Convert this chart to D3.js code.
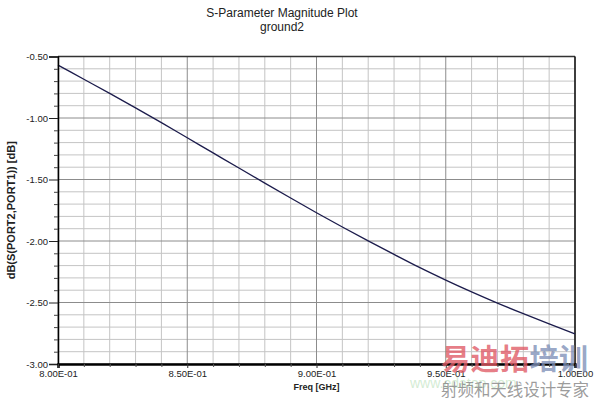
<!DOCTYPE html>
<html><head><meta charset="utf-8">
<script src="https://cdn.jsdelivr.net/npm/d3@7/dist/d3.min.js"></script>
<style>
html,body{margin:0;padding:0;background:#fff;}
svg{display:block;font-family:"Liberation Sans",Arial,sans-serif;}
</style></head><body>
<svg id="c" width="594" height="400"></svg>
<script>
// ---- data ----
const freqGHz = [0.80,0.81,0.82,0.83,0.84,0.85,0.86,0.87,0.88,0.89,0.90,0.91,0.92,0.93,0.94,0.95,0.96,0.97,0.98,0.99,1.00];
const s21dB   = [-0.57,-0.685,-0.80,-0.918,-1.038,-1.161,-1.284,-1.407,-1.529,-1.650,-1.770,-1.886,-1.999,-2.109,-2.217,-2.318,-2.414,-2.505,-2.591,-2.674,-2.755];
const xMajorTicks = [0.80,0.85,0.90,0.95,1.00];
const xTickLabels = ["8.00E-01","8.50E-01","9.00E-01","9.50E-01","1.00E00"];
const xMinorTicks = [0.81,0.82,0.83,0.84,0.86,0.87,0.88,0.89,0.91,0.92,0.93,0.94,0.96,0.97,0.98,0.99];
const yMajorTicks = [-3.0,-2.5,-2.0,-1.5,-1.0,-0.5];
const yTickLabels = ["-3.00","-2.50","-2.00","-1.50","-1.00","-0.50"];
const yMinorTicks = [-2.9,-2.8,-2.7,-2.6,-2.4,-2.3,-2.2,-2.1,-1.9,-1.8,-1.7,-1.6,-1.4,-1.3,-1.2,-1.1,-0.9,-0.8,-0.7,-0.6];
const titleLines = ["S-Parameter Magnitude Plot","ground2"];
const xTitle = "Freq [GHz]";
const yTitle = "dB(S(PORT2,PORT1)) [dB]";

// ---- layout ----
const L=58, R=575, T=56.5, B=364;
const svg=d3.select("#c");
const x=d3.scaleLinear().domain([0.8,1.0]).range([L,R]);
const y=d3.scaleLinear().domain([-3,-0.5]).range([B,T]);

// grid
const g=svg.append("g");
g.selectAll(".vmin").data(xMinorTicks).join("line")
 .attr("x1",d=>x(d)).attr("x2",d=>x(d)).attr("y1",T).attr("y2",B)
 .attr("stroke","#c4c4c4").attr("stroke-width",1);
g.selectAll(".hmin").data(yMinorTicks).join("line")
 .attr("y1",d=>y(d)).attr("y2",d=>y(d)).attr("x1",L).attr("x2",R)
 .attr("stroke","#c4c4c4").attr("stroke-width",1);
g.selectAll(".vmaj").data(xMajorTicks).join("line")
 .attr("x1",d=>x(d)).attr("x2",d=>x(d)).attr("y1",T).attr("y2",B)
 .attr("stroke","#8c8c8c").attr("stroke-width",1);
g.selectAll(".hmaj").data(yMajorTicks).join("line")
 .attr("y1",d=>y(d)).attr("y2",d=>y(d)).attr("x1",L).attr("x2",R)
 .attr("stroke","#8c8c8c").attr("stroke-width",1);

// frame
svg.append("line").attr("x1",L).attr("x2",R).attr("y1",T).attr("y2",T).attr("stroke","#333").attr("stroke-width",1.5);
svg.append("line").attr("x1",R).attr("x2",R).attr("y1",T).attr("y2",B).attr("stroke","#111").attr("stroke-width",1.5);

// curve
svg.append("path").datum(freqGHz.map((f,i)=>[f,s21dB[i]]))
 .attr("fill","none").attr("stroke","#1c1c4c").attr("stroke-width",1.3)
 .attr("d",d3.line().x(d=>x(d[0])).y(d=>y(d[1])).curve(d3.curveMonotoneX));

// y axis
const yAxisMajor=d3.axisLeft(y).tickValues(yMajorTicks).tickSize(9).tickPadding(1)
 .tickFormat((d,i)=>yTickLabels[i]);
const ya=svg.append("g").attr("transform",`translate(${L},0)`).call(yAxisMajor);
ya.select(".domain").attr("stroke","#000").attr("stroke-width",1.5);
ya.selectAll("text").attr("font-size","9.5px").attr("fill","#222").attr("font-family","Liberation Sans, Arial, sans-serif");
ya.selectAll(".tick line").attr("stroke","#222");
const ym=svg.append("g").attr("transform",`translate(${L},0)`).call(d3.axisLeft(y).tickValues(yMinorTicks).tickSize(4).tickFormat(""));
ym.select(".domain").remove();
ym.selectAll(".tick line").attr("stroke","#444");

// x axis
const xAxisMajor=d3.axisBottom(x).tickValues(xMajorTicks).tickSize(4).tickPadding(2)
 .tickFormat((d,i)=>xTickLabels[i]);
const xa=svg.append("g").attr("transform",`translate(0,${B})`).call(xAxisMajor);
xa.select(".domain").attr("stroke","#000").attr("stroke-width",2.5);
xa.selectAll("text").attr("font-size","9.5px").attr("fill","#222").attr("font-family","Liberation Sans, Arial, sans-serif");
xa.selectAll(".tick line").attr("stroke","#333");
const xm=svg.append("g").attr("transform",`translate(0,${B})`).call(d3.axisBottom(x).tickValues(xMinorTicks).tickSize(3).tickFormat(""));
xm.select(".domain").remove();
xm.selectAll(".tick line").attr("stroke","#555");

// titles
svg.append("text").attr("x",282).attr("y",17).attr("text-anchor","middle")
 .attr("font-size","12px").attr("fill","#222").text(titleLines[0]);
svg.append("text").attr("x",282).attr("y",30.5).attr("text-anchor","middle")
 .attr("font-size","12px").attr("fill","#222").text(titleLines[1]);
svg.append("text").attr("x",(L+R)/2).attr("y",390).attr("text-anchor","middle")
 .attr("font-size","9px").attr("font-weight","bold").attr("fill","#222").text(xTitle);
svg.append("text").attr("transform",`translate(15,${(T+B)/2}) rotate(-90)`).attr("text-anchor","middle")
 .attr("font-size","11px").attr("font-weight","bold").attr("fill","#222").text(yTitle);

// watermark
const wm=svg.append("g").attr("font-family","Noto Sans CJK SC, sans-serif");
wm.append("text").attr("x",410).attr("y",388).attr("font-size","14px").attr("fill","#a8d8a8").attr("fill-opacity",0.5)
 .attr("font-family","Liberation Sans, Arial, sans-serif").text("www.edatop.com");
const big=wm.append("text").attr("x",441).attr("y",370).attr("font-size","29px").attr("font-weight","bold").attr("textLength",147);
big.append("tspan").attr("fill","#e05a66").attr("fill-opacity",0.8).text("易迪拓");
big.append("tspan").attr("fill","#7f90b8").attr("fill-opacity",0.8).text("培训");
wm.append("text").attr("x",441).attr("y",396).attr("font-size","16.5px").attr("fill","#8a8a8a").attr("fill-opacity",0.85)
 .attr("textLength",148).text("射频和天线设计专家");
</script>
</body></html>
